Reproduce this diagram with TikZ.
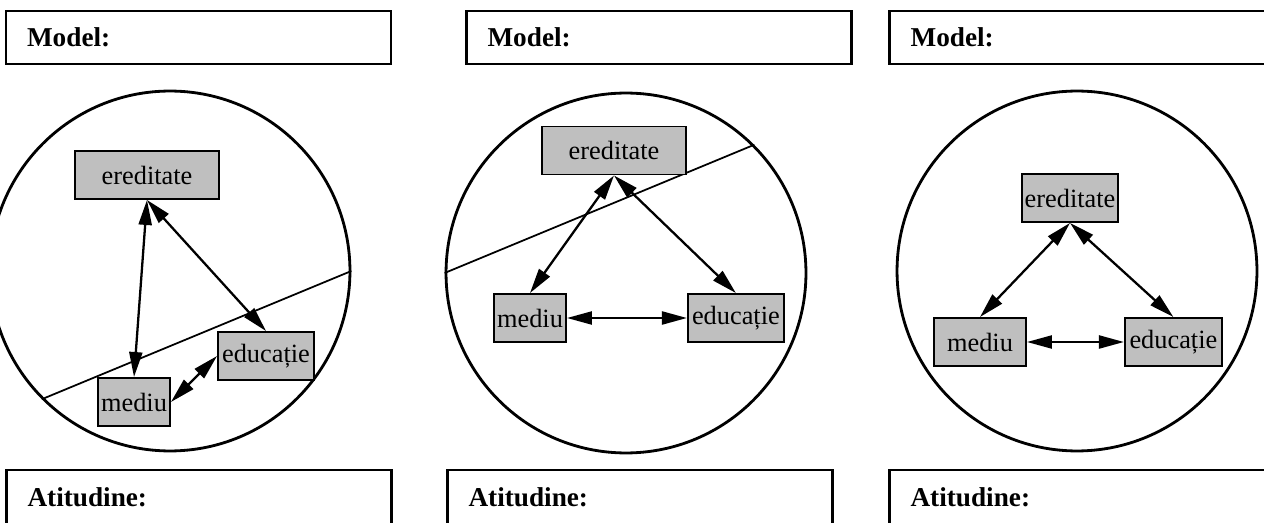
\documentclass[tikz,border=0pt]{standalone}
\usepackage{fontspec}
\setmainfont{Liberation Serif}
\usetikzlibrary{arrows.meta,positioning}

\begin{document}
\begin{tikzpicture}[x=0.02cm,y=-0.02cm,>={Triangle[length=5mm,width=2.6mm]},
	factor/.style={draw,fill=black!25,line width=1.1pt,inner xsep=1pt,minimum height=0.96cm,font=\fontsize{15}{18}\selectfont},
	field/.style={draw,line width=1.4pt,minimum width=7.7cm,text width=6.86cm,inner xsep=0.42cm,align=left,anchor=north,font=\bfseries\fontsize{15.5}{18}\selectfont},
	world/.style={circle,draw,line width=1.6pt,minimum size=7.2cm,inner sep=0pt},
	cut/.style={line width=1pt},
	link/.style={<->,line width=1.3pt}]

\useasboundingbox (0,0) rectangle (1264,523);
\clip (0,0) rectangle (1264,523);

% top and bottom fields
\node[field,minimum height=1.06cm] (mod1) at (198.5,10) {Model:};
\node[field,minimum height=1.06cm] (mod2) at (659,10)   {Model:};
\node[field,minimum height=1.06cm] (mod3) at (1082,10)  {Model:};

\node[field,minimum height=1.2cm,text depth=0.12cm] (att1) at (199,469)  {Atitudine:};
\node[field,minimum height=1.2cm,text depth=0.12cm] (att2) at (640,469)  {Atitudine:};
\node[field,minimum height=1.2cm,text depth=0.12cm] (att3) at (1082,469) {Atitudine:};

% first model
\node[world] (w1) at (170,271) {};
\draw[cut] (w1.225) -- (w1.0);
\node[factor,minimum width=2.88cm] (e1) at (147,175) {ereditate};
\node[factor,minimum width=1.92cm] (d1) at (266,356) {educație};
\node[factor,minimum width=1.44cm] (m1) at (134,402) {mediu};

\path[link] (e1.south) edge (m1.north)
	(e1.south) edge (d1.north)
	(m1.east)  edge (d1.west);

% second model
\node[world] (w2) at (626,273) {};
\draw[cut] (w2.180) -- (w2.45);
\node[factor,minimum width=2.88cm] (e2) at (614,150.5) {ereditate};
\node[factor,minimum width=1.44cm] (m2) at (530,318) {mediu};
\node[factor,minimum width=1.92cm] (d2) [right=2.4cm of m2] {educație};

\path[link] (e2.south) edge (m2.north)
	(e2.south) edge (d2.north)
	(m2.east)  edge (d2.west);

% third model
\node[world] (w3) at (1077,271) {};
\node[factor,minimum width=1.92cm] (e3) at (1070,198) {ereditate};
\node[factor,minimum width=1.84cm] (m3) at (980,342) {mediu};
\node[factor,minimum width=1.94cm] (d3) [right=1.94cm of m3] {educație};

\path[link] (e3.south) edge (m3.north)
	(e3.south) edge (d3.north)
	(m3.east)  edge (d3.west);

\end{tikzpicture}
\end{document}
